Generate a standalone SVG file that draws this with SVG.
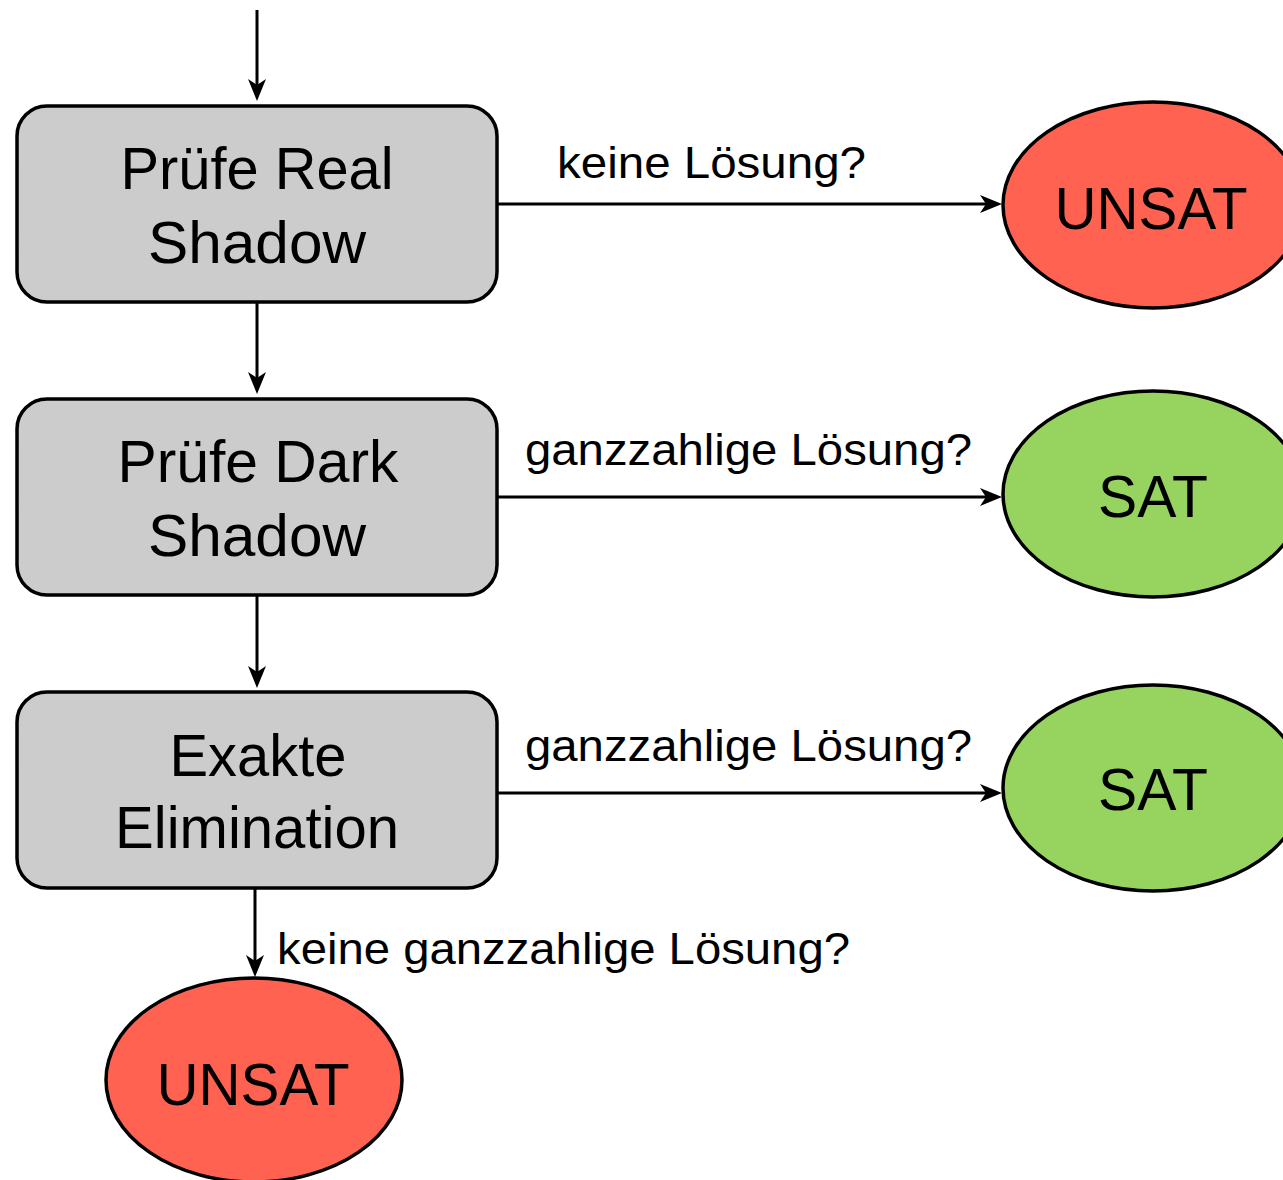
<svg xmlns="http://www.w3.org/2000/svg" width="1283" height="1180" viewBox="0 0 1283 1180">
<defs>
<path id="ah" d="M-22,-9 L0,0 L-22,9 L-16,0 Z"/>
<style>
.box{fill:#cccccc;stroke:#000;stroke-width:3.5}
.red{fill:#ff6251;stroke:#000;stroke-width:3.5}
.green{fill:#96d35f;stroke:#000;stroke-width:3.5}
.t{font-family:"Liberation Sans",Arial,sans-serif;fill:#000;text-anchor:middle}
.big{font-size:60px}
.lbl{font-size:45px;text-anchor:start}
.conn{stroke:#000;stroke-width:3;fill:none}
.head{fill:#000}
</style>
</defs>
<rect width="1283" height="1180" fill="#fff"/>
<g id="connectors">
<line class="conn" x1="257" y1="10" x2="257" y2="88"/>
<use class="head" href="#ah" transform="translate(257,101) rotate(90)"/>
<line class="conn" x1="257" y1="303" x2="257" y2="381"/>
<use class="head" href="#ah" transform="translate(257,394) rotate(90)"/>
<line class="conn" x1="257" y1="596" x2="257" y2="675"/>
<use class="head" href="#ah" transform="translate(257,688) rotate(90)"/>
<line class="conn" x1="255" y1="889" x2="255" y2="964"/>
<use class="head" href="#ah" transform="translate(255,977) rotate(90)"/>
<line class="conn" x1="498" y1="204" x2="989" y2="204"/>
<use class="head" href="#ah" transform="translate(1002,204)"/>
<line class="conn" x1="498" y1="497" x2="989" y2="497"/>
<use class="head" href="#ah" transform="translate(1002,497)"/>
<line class="conn" x1="498" y1="793" x2="989" y2="793"/>
<use class="head" href="#ah" transform="translate(1002,793)"/>
<text class="t lbl" x="557" y="178" textLength="309" lengthAdjust="spacingAndGlyphs">keine Lösung?</text>
<text class="t lbl" x="525" y="465" textLength="447" lengthAdjust="spacingAndGlyphs">ganzzahlige Lösung?</text>
<text class="t lbl" x="525" y="761" textLength="447" lengthAdjust="spacingAndGlyphs">ganzzahlige Lösung?</text>
<text class="t lbl" x="277" y="964" textLength="573" lengthAdjust="spacingAndGlyphs">keine ganzzahlige Lösung?</text>
</g>
<g id="real">
<rect class="box" x="17" y="106" width="480" height="196" rx="30"/>
<text class="t big" x="257" y="189" textLength="273" lengthAdjust="spacingAndGlyphs">Prüfe Real</text>
<text class="t big" x="257" y="263" textLength="218" lengthAdjust="spacingAndGlyphs">Shadow</text>
</g>
<g id="dark">
<rect class="box" x="17" y="399" width="480" height="196" rx="30"/>
<text class="t big" x="258" y="482" textLength="281" lengthAdjust="spacingAndGlyphs">Prüfe Dark</text>
<text class="t big" x="257" y="556" textLength="218" lengthAdjust="spacingAndGlyphs">Shadow</text>
</g>
<g id="exakt">
<rect class="box" x="17" y="692" width="480" height="196" rx="30"/>
<text class="t big" x="258" y="776" textLength="177" lengthAdjust="spacingAndGlyphs">Exakte</text>
<text class="t big" x="257" y="848" textLength="284" lengthAdjust="spacingAndGlyphs">Elimination</text>
</g>
<g id="unsat1">
<ellipse class="red" cx="1153" cy="205" rx="150" ry="103"/>
<text class="t big" x="1151" y="229" textLength="193" lengthAdjust="spacingAndGlyphs">UNSAT</text>
</g>
<g id="sat1">
<ellipse class="green" cx="1153" cy="494" rx="150" ry="103"/>
<text class="t big" x="1153" y="517" textLength="110" lengthAdjust="spacingAndGlyphs">SAT</text>
</g>
<g id="sat2">
<ellipse class="green" cx="1153" cy="788" rx="150" ry="103"/>
<text class="t big" x="1153" y="810" textLength="110" lengthAdjust="spacingAndGlyphs">SAT</text>
</g>
<g id="unsat2">
<ellipse class="red" cx="254" cy="1080" rx="148" ry="102"/>
<text class="t big" x="253" y="1105" textLength="193" lengthAdjust="spacingAndGlyphs">UNSAT</text>
</g>
</svg>
